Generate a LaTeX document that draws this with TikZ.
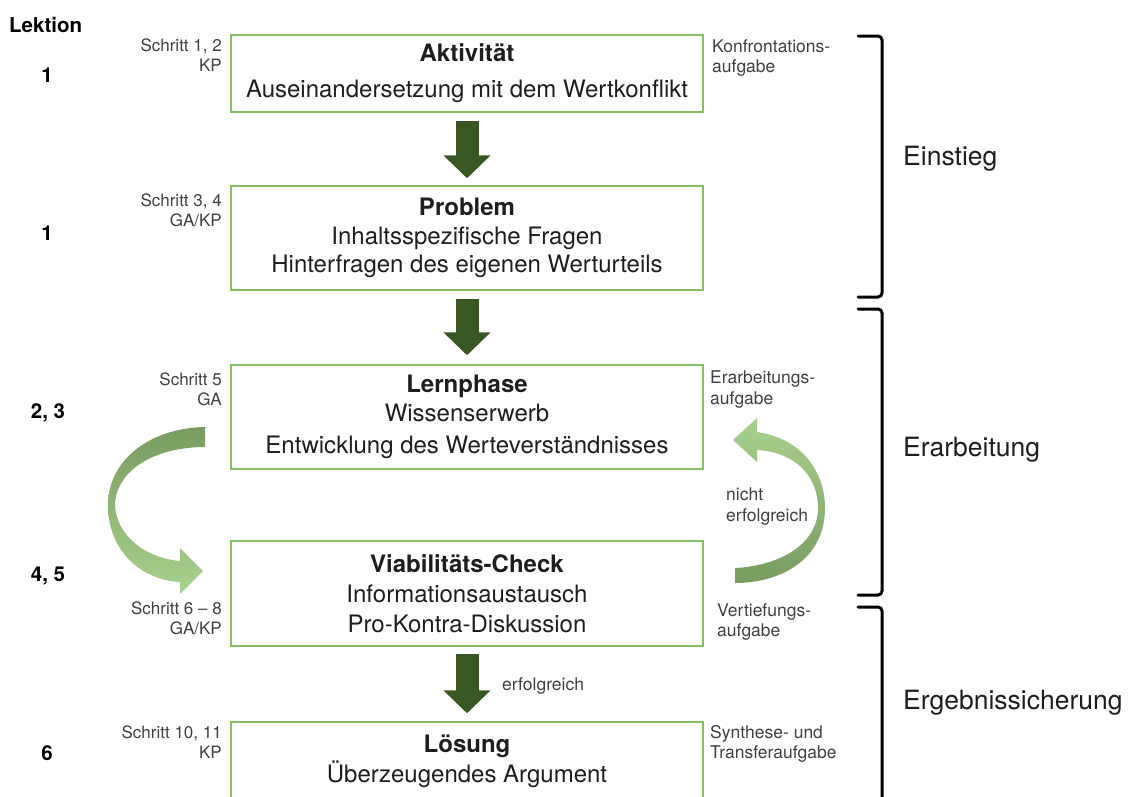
\documentclass[tikz,border=0pt]{standalone}
\usepackage{fontspec}
\setmainfont{TeX Gyre Heros}
\usetikzlibrary{arrows.meta,calc}
\definecolor{boxgreen}{RGB}{135,192,100}
\definecolor{darkarrow}{RGB}{56,87,35}
\definecolor{lightarrow}{RGB}{169,209,142}
\definecolor{midarrow}{RGB}{120,156,96}
\definecolor{notegray}{RGB}{64,64,64}
\definecolor{bodytext}{RGB}{30,30,30}
\tikzset{
  stage/.style={draw=boxgreen, line width=1.5pt, minimum width=472pt, align=center,
    text=bodytext, font=\fontsize{24}{28.5}\selectfont, inner sep=0pt},
  lek/.style={font=\bfseries\fontsize{20.5}{24}\selectfont, inner sep=0pt},
  stepnote/.style={anchor=north east, align=right, text=notegray,
    font=\fontsize{17}{20}\selectfont, inner sep=0pt},
  tasknote/.style={anchor=north west, align=left, text=notegray,
    font=\fontsize{17.5}{20.5}\selectfont, inner sep=0pt},
  phase/.style={anchor=west, text=bodytext, font=\fontsize{26.5}{30}\selectfont, inner sep=0pt},
  bigarrow/.style={draw=darkarrow, line width=23pt, -{Triangle[width=46pt,length=23pt]}},
  bracket/.style={line width=3pt, rounded corners=4pt, line cap=round}
}
\begin{document}
\begin{tikzpicture}[x=1pt,y=-1pt]
\clip (0,0) rectangle (1129,796);
\useasboundingbox (0,0) rectangle (1129,796);

% lessons column
\node[lek, anchor=west] (lekhead) at (9,25) {Lektion};
\node[lek] (l1) at (47,75) {1};
\node[lek] (l2) at (47,233) {1};
\node[lek] (l3) at (48,413) {2, 3};
\node[lek] (l4) at (48,576) {4, 5};
\node[lek] (l5) at (47,753) {6};

% stage boxes
\node[stage, minimum height=77pt] (akt) at (467,73.5)
  {\textbf{Aktivität}\\[7.5pt] Auseinandersetzung mit dem Wertkonflikt};
\node[stage, minimum height=104pt] (prob) at (467,238)
  {\textbf{Problem}\\ Inhaltsspezifische Fragen\\ Hinterfragen des eigenen Werturteils};
\node[stage, minimum height=104pt] (lern) at (467,417)
  {\textbf{Lernphase}\\ Wissenserwerb\\[3.5pt] Entwicklung des Werteverständnisses};
\node[stage, minimum height=105pt] (viab) at (467,593.5)
  {\textbf{Viabilitäts-Check}\\[1.5pt] Informationsaustausch\\[1.5pt] Pro-Kontra-Diskussion};
\node[stage, minimum height=78pt] (loes) at (467,761)
  {\textbf{Lösung}\\[1.5pt] Überzeugendes Argument};

% step notes
\node[stepnote] (s1) at (222,39) {Schritt 1, 2\\KP};
\node[stepnote] (s2) at (222,194) {Schritt 3, 4\\GA/KP};
\node[stepnote] (s3) at (222,373) {Schritt 5\\GA};
\node[stepnote] (s4) at (222,602) {Schritt 6 – 8\\GA/KP};
\node[stepnote] (s5) at (222,726) {Schritt 10, 11\\KP};

% task notes
\node[tasknote] (t1) at (712,39) {Konfrontations-\\aufgabe};
\node[tasknote] (t2) at (710,371) {Erarbeitungs-\\aufgabe};
\node[tasknote] (t3) at (717,603) {Vertiefungs-\\aufgabe};
\node[tasknote] (t4) at (710,725) {Synthese- und\\Transferaufgabe};
\node[tasknote] (nerf) at (726,488) {nicht\\erfolgreich};

% main flow arrows
\draw[bigarrow] ([yshift=-8pt]akt.south) -- ([yshift=7pt]prob.north);
\draw[bigarrow] ([yshift=-8pt]prob.south) -- ([yshift=9pt]lern.north);
\draw[bigarrow] ([yshift=-7pt]viab.south) -- ([yshift=8pt]loes.north);
\node[tasknote, anchor=west] (erf) at (502,686) {erfolgreich};

% curved arrow: Lernphase -> Viabilitaets-Check
\shade[top color=midarrow, bottom color=lightarrow]
  (205,427) .. controls (150,428) and (108,460) .. (108,505)
  .. controls (108,550) and (140,580) .. (180,582)
  -- (180,594) -- (203,571) -- (180,548) -- (180,561)
  .. controls (145,558) and (116,535) .. (115,505)
  .. controls (116,470) and (155,447) .. (205,447) -- cycle;

% curved arrow: Viabilitaets-Check -> Lernphase
\shade[top color=lightarrow, bottom color=midarrow]
  (757,432) .. controls (800,438) and (825,470) .. (825,508)
  .. controls (825,560) and (780,583) .. (735,583)
  -- (735,568)
  .. controls (778,566) and (818,545) .. (818,508)
  .. controls (818,476) and (795,452) .. (757,450)
  -- (757,462) -- (733,440) -- (757,418) -- cycle;

% phase brackets
\draw[bracket] (858,36) -- (882,36) -- (882,297) -- (858,297);
\draw[bracket] (858,309) -- (882,309) -- (882,595) -- (858,595);
\draw[bracket] (858,607) -- (882,607) -- (882,830);
\node[phase] (p1) at (903,159) {Einstieg};
\node[phase] (p2) at (903,450) {Erarbeitung};
\node[phase] (p3) at (903,703) {Ergebnissicherung};
\end{tikzpicture}
\end{document}
